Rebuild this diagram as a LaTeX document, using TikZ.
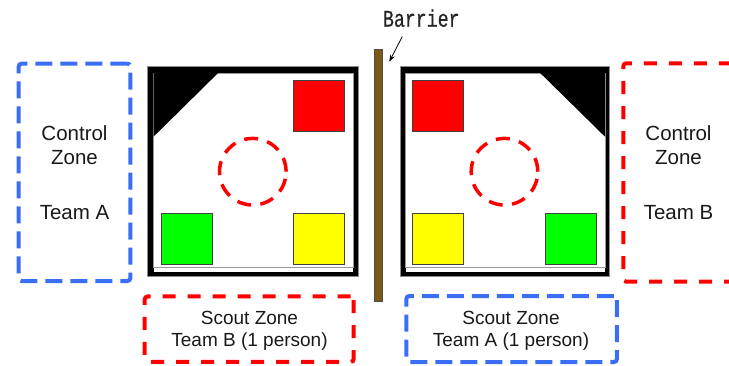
\documentclass[tikz,border=0pt]{standalone}
\usepackage{graphicx}
\usepackage{fontspec}
\setmainfont{Liberation Sans}
\newfontfamily\monof[FakeBold=0.6]{Liberation Mono}
\usetikzlibrary{arrows.meta}
\definecolor{zblue}{RGB}{58,110,245}
\definecolor{zred}{RGB}{255,0,0}
\definecolor{zgreen}{RGB}{0,255,0}
\definecolor{zyellow}{RGB}{255,255,0}
\definecolor{barrierbrown}{RGB}{125,90,20}
\begin{document}
\begin{tikzpicture}[x=1pt,y=-1pt,
  bluezone/.style={draw=zblue, line width=4pt, dash pattern=on 17pt off 8pt, rounded corners=3pt, inner sep=0pt},
  redzone/.style={draw=zred, line width=4pt, dash pattern=on 13pt off 12pt, rounded corners=3pt, inner sep=0pt},
  goal/.style={draw=black!75, line width=0.9pt, minimum size=51pt, inner sep=0pt},
  ctext/.style={font=\fontsize{20.5}{24.5}\selectfont, anchor=base, text=black!90, inner sep=0pt},
  stext/.style={font=\fontsize{19}{22.5}\selectfont, anchor=base, text=black!90, inner sep=0pt},
  ring/.style={draw=zred, line width=3.5pt, dash pattern=on 14pt off 9.5pt},
]
\useasboundingbox (0,0) rectangle (729,365);
\clip (0,0) rectangle (729,365);

% control zones
\node[bluezone, minimum width=111.6pt, minimum height=217.5pt] (ctrlA) at (74.5,172.3) {};
\node[redzone, minimum width=111.6pt, minimum height=218.4pt] (ctrlB) at (679.1,172.5) {};
\node[ctext] (ctrlA1) at (74.5,140) {Control};
\node[ctext] (ctrlA2) at (74.5,164.5) {Zone};
\node[ctext] (ctrlA3) at (74.5,219) {Team A};
\node[ctext] (ctrlB1) at (678.5,140) {Control};
\node[ctext] (ctrlB2) at (678.5,164.5) {Zone};
\node[ctext] (ctrlB3) at (678.5,219) {Team B};

% scout zones
\node[redzone, minimum width=209pt, minimum height=65.5pt] (scoutB) at (249.2,329.2) {};
\node[bluezone, minimum width=210.7pt, minimum height=66pt] (scoutA) at (511.6,329) {};
\node[stext] (scoutB1) at (249.5,324.3) {Scout Zone};
\node[stext] (scoutB2) at (249.5,346.8) {Team B (1 person)};
\node[stext] (scoutA1) at (511,324.3) {Scout Zone};
\node[stext] (scoutA2) at (511,346.8) {Team A (1 person)};

% left field
\fill[black] (147.3,66.7) rectangle (358.3,276.7);
\draw[black!45, line width=0.5pt] (147.3,66.7) rectangle (358.3,276.7);
\fill[white] (153.5,72.8) rectangle (352.8,271.7);
\draw[black!40, line width=0.6pt] (153.5,72.8) rectangle (352.8,266.8);
\fill[black] (153.5,72.8) -- (218.3,72.8) -- (153.5,136.7) -- cycle;
\node[goal, fill=zred] (redA) at (319.2,106) {};
\node[goal, fill=zgreen] (greenA) at (186.5,238.8) {};
\node[goal, fill=zyellow] (yellowA) at (318.8,238.8) {};
\draw[ring] (252.8,171.7) circle (33.3pt);

% right field
\fill[black] (400,66.7) rectangle (609.3,276.7);
\draw[black!45, line width=0.5pt] (400,66.7) rectangle (609.3,276.7);
\fill[white] (405.7,72.8) rectangle (605,271.7);
\draw[black!40, line width=0.6pt] (405.7,72.8) rectangle (605,266.8);
\fill[black] (540,72.8) -- (605,72.8) -- (605,136.7) -- cycle;
\node[goal, fill=zred] (redB) at (438.4,106) {};
\node[goal, fill=zyellow] (yellowB) at (438.4,238.8) {};
\node[goal, fill=zgreen] (greenB) at (571.4,238.8) {};
\draw[ring] (504.5,171.7) circle (33.3pt);

% barrier
\node[fill=barrierbrown, draw=black!70, line width=0.6pt, minimum width=7.5pt, minimum height=252.5pt, inner sep=0pt] (barrier) at (378.3,175.4) {};
\node[anchor=base, inner sep=0pt, text=black!85] (blabel) at (421.3,26.7) {\scalebox{0.76}[1]{\monof\fontsize{24}{24}\selectfont Barrier}};
\coordinate (bstart) at (402.3,36.5);
\coordinate (bend) at (389.3,61.7);
\draw[line width=0.8pt, -{Stealth[length=7pt, width=5pt]}] (bstart) -- (bend);
\end{tikzpicture}
\end{document}
